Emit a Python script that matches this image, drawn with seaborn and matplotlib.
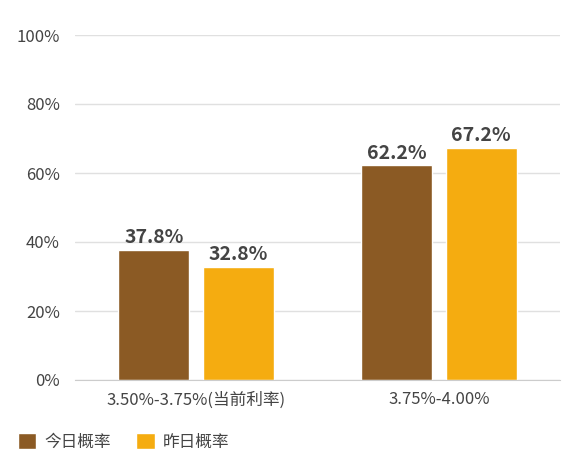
import matplotlib
matplotlib.use("Agg")
import matplotlib.pyplot as plt
import seaborn as sns
import pandas as pd

categories = ["3.50%-3.75%(当前利率)", "3.75%-4.00%"]
series_names = ["今日概率", "昨日概率"]
today = [37.8, 62.2]
yesterday = [32.8, 67.2]
yticks = [0, 20, 40, 60, 80, 100]

sns.set_style("white")
plt.rcParams['font.family'] = ['Noto Sans CJK SC', 'DejaVu Sans']

df = pd.DataFrame({
    "cat": categories * 2,
    "series": [series_names[0]] * 2 + [series_names[1]] * 2,
    "val": today + yesterday,
})

fig = plt.figure(figsize=(5.73, 4.59), dpi=100)
ax = fig.add_axes([75/573, 1-380/459, 485/573, 345/459])
sns.barplot(data=df, x="cat", y="val", hue="series", ax=ax,
            palette=["#8B5A24", "#F5AC10"], width=0.7, gap=0.16,
            saturation=1, legend=True)
for c in ax.containers:
    ax.bar_label(c, labels=[f"{v:.1f}%" for v in c.datavalues], padding=2,
                 fontsize=14, fontweight="bold", color="#444444")
ax.set_xlim(-0.5, 1.5)
ax.set_ylim(0, 100)
ax.set_yticks(yticks)
ax.set_yticklabels([f"{v}%" for v in yticks], fontsize=12, color="#444444")
ax.tick_params(axis="y", length=0, pad=11)
ax.tick_params(axis="x", length=0, pad=8, labelsize=12, labelcolor="#444444")
ax.yaxis.grid(True, color="#e0e0e0", linewidth=1)
ax.set_axisbelow(True)
for s in ["left", "right", "top"]:
    ax.spines[s].set_visible(False)
ax.spines["bottom"].set_color("#cccccc")
ax.set_xlabel("")
ax.set_ylabel("")
ax.legend(loc="upper left", bbox_to_anchor=(-72/485, -0.11), ncol=2, frameon=False,
          fontsize=12, handlelength=1.1, handleheight=1.1, columnspacing=1.5,
          handletextpad=0.5, labelcolor="#444444")
fig.savefig("out.png", dpi=100)
